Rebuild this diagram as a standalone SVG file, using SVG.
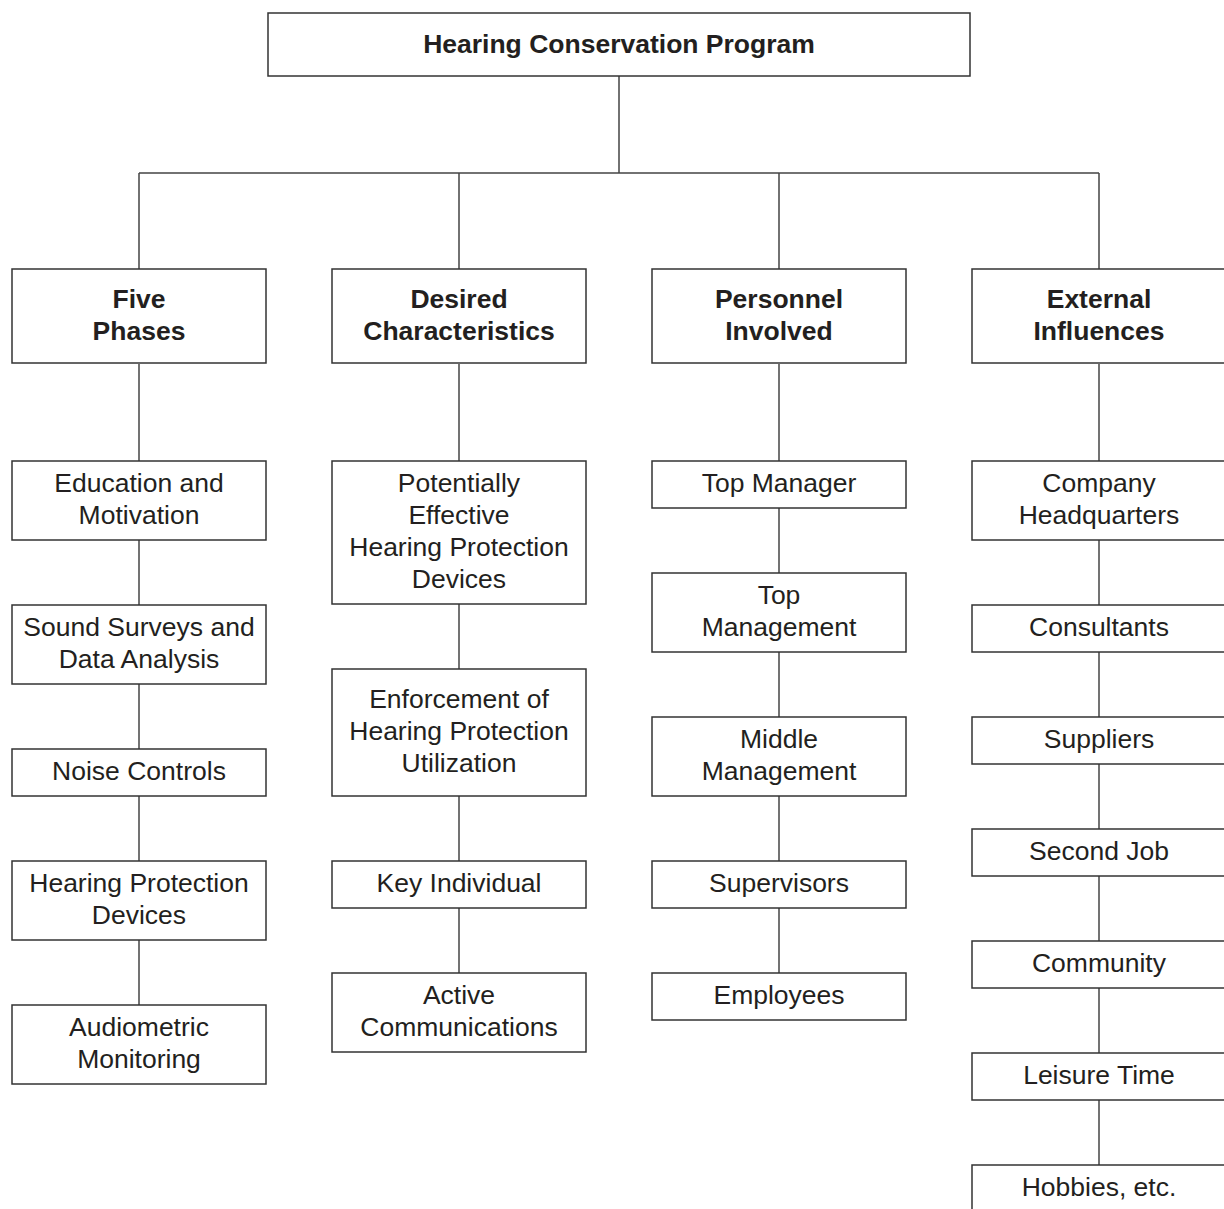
<svg xmlns="http://www.w3.org/2000/svg" width="1224" height="1209" viewBox="0 0 1224 1209">
<style>
rect{fill:#fff;stroke:#333;stroke-width:1.5}
line,path{stroke:#444;stroke-width:1.5;fill:none}
text{font-family:"Liberation Sans",Arial,sans-serif;font-size:26.5px;fill:#231f20;text-anchor:middle}
.b{font-weight:bold}
</style>
<rect width="1224" height="1209" style="fill:#fff;stroke:none"/>
<g id="connectors">
<path d="M619 76V173M139 173H1099M139 173V269M459 173V269M779 173V269M1099 173V269"/>
<path d="M139 364V1005"/>
<path d="M459 364V973"/>
<path d="M779 364V973"/>
<path d="M1099 364V1165"/>
</g>
<g id="root"><rect x="268" y="13" width="702" height="63"/><text class="b" x="619" y="53">Hearing Conservation Program</text></g>
<g id="h1"><rect x="12" y="269" width="254" height="94"/><text class="b" x="139" y="308">Five</text><text class="b" x="139" y="340">Phases</text></g>
<g id="h2"><rect x="332" y="269" width="254" height="94"/><text class="b" x="459" y="308">Desired</text><text class="b" x="459" y="340">Characteristics</text></g>
<g id="h3"><rect x="652" y="269" width="254" height="94"/><text class="b" x="779" y="308">Personnel</text><text class="b" x="779" y="340">Involved</text></g>
<g id="h4"><rect x="972" y="269" width="254" height="94"/><text class="b" x="1099" y="308">External</text><text class="b" x="1099" y="340">Influences</text></g>

<g id="c1a"><rect x="12" y="461" width="254" height="79"/><text x="139" y="492">Education and</text><text x="139" y="524">Motivation</text></g>
<g id="c1b"><rect x="12" y="605" width="254" height="79"/><text x="139" y="636">Sound Surveys and</text><text x="139" y="668">Data Analysis</text></g>
<g id="c1c"><rect x="12" y="749" width="254" height="47"/><text x="139" y="780">Noise Controls</text></g>
<g id="c1d"><rect x="12" y="861" width="254" height="79"/><text x="139" y="892">Hearing Protection</text><text x="139" y="924">Devices</text></g>
<g id="c1e"><rect x="12" y="1005" width="254" height="79"/><text x="139" y="1036">Audiometric</text><text x="139" y="1068">Monitoring</text></g>

<g id="c2a"><rect x="332" y="461" width="254" height="143"/><text x="459" y="492">Potentially</text><text x="459" y="524">Effective</text><text x="459" y="556">Hearing Protection</text><text x="459" y="588">Devices</text></g>
<g id="c2b"><rect x="332" y="669" width="254" height="127"/><text x="459" y="708">Enforcement of</text><text x="459" y="740">Hearing Protection</text><text x="459" y="772">Utilization</text></g>
<g id="c2c"><rect x="332" y="861" width="254" height="47"/><text x="459" y="892">Key Individual</text></g>
<g id="c2d"><rect x="332" y="973" width="254" height="79"/><text x="459" y="1004">Active</text><text x="459" y="1036">Communications</text></g>

<g id="c3a"><rect x="652" y="461" width="254" height="47"/><text x="779" y="492">Top Manager</text></g>
<g id="c3b"><rect x="652" y="573" width="254" height="79"/><text x="779" y="604">Top</text><text x="779" y="636">Management</text></g>
<g id="c3c"><rect x="652" y="717" width="254" height="79"/><text x="779" y="748">Middle</text><text x="779" y="780">Management</text></g>
<g id="c3d"><rect x="652" y="861" width="254" height="47"/><text x="779" y="892">Supervisors</text></g>
<g id="c3e"><rect x="652" y="973" width="254" height="47"/><text x="779" y="1004">Employees</text></g>

<g id="c4a"><rect x="972" y="461" width="254" height="79"/><text x="1099" y="492">Company</text><text x="1099" y="524">Headquarters</text></g>
<g id="c4b"><rect x="972" y="605" width="254" height="47"/><text x="1099" y="636">Consultants</text></g>
<g id="c4c"><rect x="972" y="717" width="254" height="47"/><text x="1099" y="748">Suppliers</text></g>
<g id="c4d"><rect x="972" y="829" width="254" height="47"/><text x="1099" y="860">Second Job</text></g>
<g id="c4e"><rect x="972" y="941" width="254" height="47"/><text x="1099" y="972">Community</text></g>
<g id="c4f"><rect x="972" y="1053" width="254" height="47"/><text x="1099" y="1084">Leisure Time</text></g>
<g id="c4g"><rect x="972" y="1165" width="254" height="60"/><text x="1099" y="1196">Hobbies, etc.</text></g>
</svg>
